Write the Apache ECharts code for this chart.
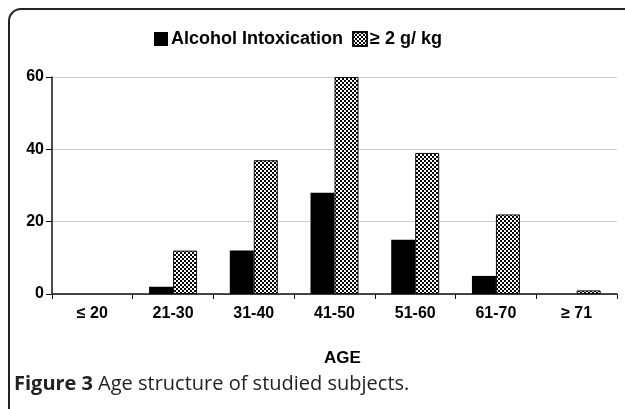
<!DOCTYPE html>
<html lang="en">
<head>
    <meta charset="UTF-8">
    <title>Age structure of studied subjects</title>
    <script src="https://cdn.jsdelivr.net/npm/echarts@6.0.0/dist/echarts.min.js"></script>
    <style>
        html, body { margin: 0; padding: 0; background: #fff; }
        #main { width: 625px; height: 409px; }
    </style>
</head>
<body>
    <div id="main"></div>
    <script>
        // data
        var ageGroups = ['\u2264 20', '21-30', '31-40', '41-50', '51-60', '61-70', '\u2265 71'];
        var intoxication = [0, 2, 12, 28, 15, 5, 0];
        var over2gkg = [0, 12, 37, 60, 39, 22, 1];
        var yTicks = [0, 20, 40, 60];

        // checkered fill for the second series
        function checker() {
            var c = document.createElement('canvas');
            c.width = 4; c.height = 4;
            var ctx = c.getContext('2d');
            ctx.fillStyle = '#fff';
            ctx.fillRect(0, 0, 4, 4);
            ctx.fillStyle = '#000';
            ctx.fillRect(0, 0, 2, 2);
            ctx.fillRect(2, 2, 2, 2);
            return c;
        }

        // zero bars are not drawn in the original (no border line)
        function bars(values) {
            return values.map(function (v) {
                return v === 0 ? { value: v, itemStyle: { borderWidth: 0, opacity: 0 } } : v;
            });
        }

        var chart = echarts.init(document.getElementById('main'));
        var font = '"Liberation Sans", Arial, sans-serif';
        var frame = { stroke: '#222', lineWidth: 2, fill: 'none' };

        var option = {
            backgroundColor: '#fff',
            animation: false,
            textStyle: { fontFamily: font },
            title: {
                left: 9,
                top: 369,
                text: '{b|Figure 3} {r|Age structure of studied subjects.}',
                textStyle: {
                    rich: {
                        b: { fontFamily: '"Open Sans"', fontWeight: 'bold', fontSize: 20, color: '#222' },
                        r: { fontFamily: '"Open Sans"', fontWeight: 'normal', fontSize: 20, color: '#222' }
                    }
                }
            },
            legend: {
                top: 25,
                left: 149,
                itemWidth: 14,
                itemHeight: 14,
                itemGap: 9,
                icon: 'rect',
                textStyle: { fontFamily: font, fontWeight: 'bold', fontSize: 18, color: '#000', padding: [0, 0, 0, -2] },
                data: ['Alcohol Intoxication', '\u2265 2 g/ kg']
            },
            grid: { left: 52, right: 8, top: 77, bottom: 115, containLabel: false },
            xAxis: {
                type: 'category',
                data: ageGroups,
                name: 'AGE',
                nameLocation: 'middle',
                nameGap: 56,
                nameTextStyle: { fontFamily: font, fontWeight: 'bold', fontSize: 17, color: '#000', padding: [0, 0, 0, 16] },
                axisLine: { lineStyle: { color: '#111', width: 1.5 } },
                axisTick: { show: true, length: 5, lineStyle: { color: '#111' } },
                axisLabel: { fontFamily: font, fontWeight: 'bold', fontSize: 16, color: '#000', margin: 12 }
            },
            yAxis: {
                type: 'value',
                min: yTicks[0],
                max: yTicks[yTicks.length - 1],
                interval: 20,
                axisLine: { show: true, lineStyle: { color: '#111', width: 1.5 } },
                axisTick: { show: true, length: 6, lineStyle: { color: '#111' } },
                axisLabel: { fontFamily: font, fontWeight: 'bold', fontSize: 16, color: '#000', margin: 8 },
                splitLine: { lineStyle: { color: '#ccc', width: 1 } }
            },
            series: [
                {
                    name: 'Alcohol Intoxication',
                    type: 'bar',
                    data: bars(intoxication),
                    barWidth: 24,
                    barGap: '0%',
                    itemStyle: { color: '#000' }
                },
                {
                    name: '\u2265 2 g/ kg',
                    type: 'bar',
                    data: bars(over2gkg),
                    barWidth: 24,
                    itemStyle: {
                        color: { image: checker(), repeat: 'repeat' },
                        borderColor: '#111',
                        borderWidth: 1
                    }
                }
            ],
            // frame around the figure: left edge, top edge, rounded corner
            graphic: [
                { type: 'line', shape: { x1: 9, y1: 409, x2: 9, y2: 21 }, style: frame },
                { type: 'line', shape: { x1: 21, y1: 9, x2: 625, y2: 9 }, style: frame },
                { type: 'arc', shape: { cx: 21, cy: 21, r: 12, startAngle: Math.PI, endAngle: Math.PI * 1.5, clockwise: true }, style: frame }
            ]
        };

        chart.setOption(option);
    </script>
</body>
</html>
